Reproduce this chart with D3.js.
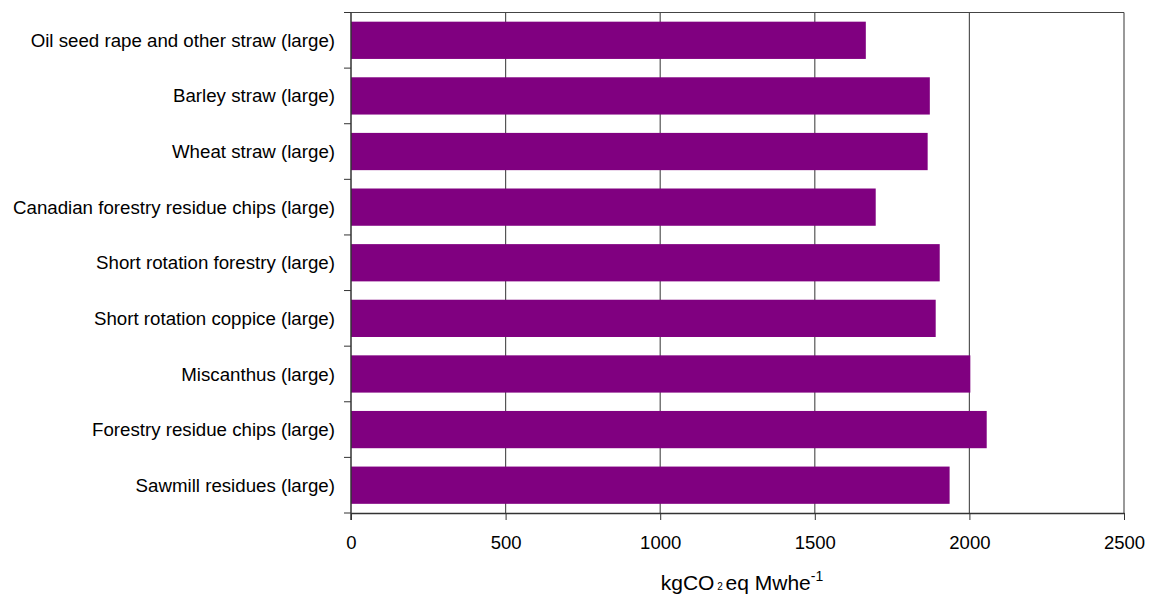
<!DOCTYPE html>
<html>
<head>
<meta charset="utf-8">
<script src="https://cdn.jsdelivr.net/npm/d3@7"></script>
<style>
  html, body { margin: 0; padding: 0; background: #fff; }
  svg { display: block; font-family: "Liberation Sans", Arial, sans-serif; }
</style>
</head>
<body>
<svg id="chart" width="1153" height="595"></svg>
<script>
const categories = [
  "Oil seed rape and other straw (large)",
  "Barley straw (large)",
  "Wheat straw (large)",
  "Canadian forestry residue chips (large)",
  "Short rotation forestry (large)",
  "Short rotation coppice (large)",
  "Miscanthus (large)",
  "Forestry residue chips (large)",
  "Sawmill residues (large)"
];
const values = [1665, 1872, 1865, 1697, 1904, 1891, 2003, 2056, 1936];
const xTicks = [0, 500, 1000, 1500, 2000, 2500];

const svg = d3.select("#chart");
const m = { left: 351, right: 1124, top: 12.5, bottom: 513 };

const x = d3.scaleLinear().domain([0, 2500]).range([m.left, m.right]);
const y = d3.scaleBand().domain(categories).range([m.top, m.bottom]).paddingInner(0.33).paddingOuter(0.165);
const yb = d3.scaleBand().domain(categories).range([m.top, m.bottom]);

// gridlines
svg.append("g").selectAll("line").data(xTicks.filter(d => d > 0)).join("line")
  .attr("x1", d => x(d)).attr("x2", d => x(d))
  .attr("y1", m.top).attr("y2", m.bottom)
  .attr("stroke", "#555").attr("stroke-width", 1.2);

// top border
svg.append("line").attr("x1", m.left).attr("x2", m.right).attr("y1", m.top).attr("y2", m.top)
  .attr("stroke", "#444").attr("stroke-width", 1.2);

// bars
svg.append("g").selectAll("rect").data(categories).join("rect")
  .attr("x", x(0))
  .attr("y", d => y(d))
  .attr("width", (d, i) => x(values[i]) - x(0))
  .attr("height", y.bandwidth())
  .attr("fill", "#800080");

// x axis
const xAxis = svg.append("g").attr("transform", `translate(0,${m.bottom})`)
  .call(d3.axisBottom(x).tickValues(xTicks).tickFormat(d3.format("d")).tickSize(7).tickPadding(16).tickSizeOuter(0));
xAxis.select(".domain").attr("stroke", "#333").attr("stroke-width", 1.5);
xAxis.selectAll(".tick line").attr("stroke", "#333");
xAxis.selectAll("text").attr("font-size", 18.5).attr("fill", "#000")
  .attr("font-family", "Liberation Sans, Arial, sans-serif");

// y axis: ticks at band boundaries
const yAxisG = svg.append("g");
yAxisG.append("line").attr("x1", m.left).attr("x2", m.left).attr("y1", m.top).attr("y2", m.bottom + 7)
  .attr("stroke", "#333").attr("stroke-width", 1.5);
const bounds = categories.map(c => yb(c)).concat([m.bottom]);
yAxisG.selectAll(".yt").data(bounds).join("line")
  .attr("x1", m.left - 7).attr("x2", m.left)
  .attr("y1", d => d).attr("y2", d => d)
  .attr("stroke", "#333").attr("stroke-width", 1);
yAxisG.selectAll("text").data(categories).join("text")
  .attr("x", 335)
  .attr("y", d => yb(d) + yb.bandwidth() / 2)
  .attr("dy", "0.35em")
  .attr("text-anchor", "end")
  .attr("font-size", 18.7)
  .attr("fill", "#000")
  .text(d => d);

// axis title
const title = svg.append("text")
  .attr("x", 742).attr("y", 590)
  .attr("text-anchor", "middle")
  .attr("font-size", 21)
  .attr("fill", "#000");
title.append("tspan").text("kgCO");
title.append("tspan").attr("font-size", 10).attr("dy", 0).text(" 2 ");
title.append("tspan").text("eq Mwhe");
title.append("tspan").attr("font-size", 14).attr("dy", -9).text("-1");
</script>
</body>
</html>
